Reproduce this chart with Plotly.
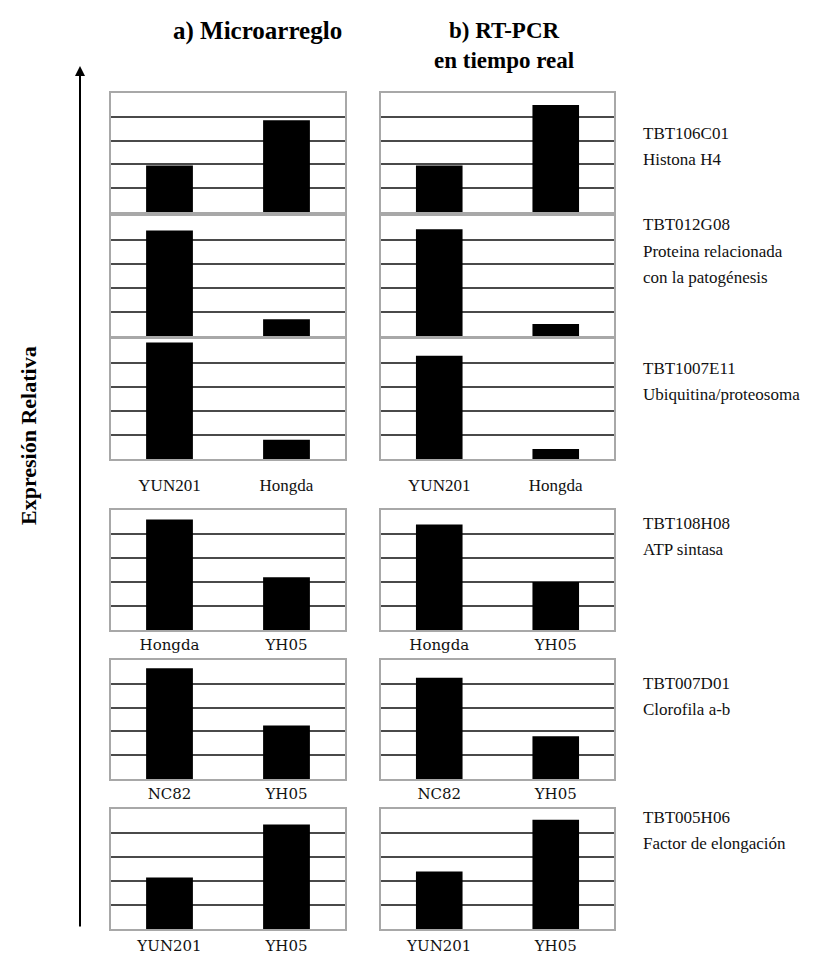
import plotly.graph_objects as go

W, H = 828, 953
OFF = 8  # page body margin offset

# ---- data ----
genes = ["TBT106C01", "TBT012G08", "TBT1007E11", "TBT108H08", "TBT007D01", "TBT005H06"]
descriptions = [
    ["Histona H4"],
    ["Proteina relacionada", "con la patogénesis"],
    ["Ubiquitina/proteosoma"],
    ["ATP sintasa"],
    ["Clorofila a-b"],
    ["Factor de elongación"],
]
categories = [
    ["YUN201", "Hongda"],
    ["YUN201", "Hongda"],
    ["YUN201", "Hongda"],
    ["Hongda", "YH05"],
    ["NC82", "YH05"],
    ["YUN201", "YH05"],
]
microarreglo = [
    [1.95, 3.85],
    [4.40, 0.70],
    [4.85, 0.80],
    [4.60, 2.20],
    [4.65, 2.25],
    [2.15, 4.35],
]
rtpcr = [
    [1.95, 4.50],
    [4.45, 0.50],
    [4.30, 0.42],
    [4.40, 2.00],
    [4.25, 1.80],
    [2.40, 4.55],
]
show_labels = [False, False, True, True, True, True]
titles = ["a) Microarreglo", "b) RT-PCR<br>en tiempo real"]
y_label = "Expresión Relativa"

# ---- layout geometry (pixels in the screenshot) ----
col_x = [(111, 345), (381, 614)]
row_y = [(93, 212), (216, 336), (339, 459), (510, 630), (660, 779), (809, 929)]
label_top_y = [133, 225, 368, 523, 683, 817]
label_standoff = [0, 0, 10, 0, 0, 2]


def px(x):
    return (x - OFF) / W


def py(y):
    return 1 - (y - OFF) / H


fig = go.Figure()
layout = {}
idx = 0
for r in range(6):
    for c, series in enumerate([microarreglo, rtpcr]):
        idx += 1
        xa = "x" if idx == 1 else f"x{idx}"
        ya = "y" if idx == 1 else f"y{idx}"
        fig.add_trace(go.Bar(
            x=categories[r], y=series[r], width=0.4,
            marker=dict(color="black", line=dict(width=0)),
            xaxis=xa, yaxis=ya, showlegend=False,
        ))
        if r < 3:
            tfont = dict(family="Liberation Serif", size=17, color="#111")
        else:
            tfont = dict(family="DejaVu Serif", size=15, color="#111")
        layout["xaxis" if idx == 1 else f"xaxis{idx}"] = dict(
            domain=[px(col_x[c][0]), px(col_x[c][1])],
            anchor=ya, type="category", range=[-0.5, 1.5],
            showline=True, mirror=True, linecolor="#a8a8a8", linewidth=1.5,
            showgrid=False, zeroline=False, ticks="",
            showticklabels=show_labels[r], tickfont=tfont,
            ticklabelstandoff=label_standoff[r], fixedrange=True,
        )
        layout["yaxis" if idx == 1 else f"yaxis{idx}"] = dict(
            domain=[py(row_y[r][1]), py(row_y[r][0])],
            anchor=xa, range=[0, 5], tickvals=[1, 2, 3, 4],
            showgrid=True, gridcolor="#4a4a4a", gridwidth=1.5,
            showline=True, mirror=True, linecolor="#a8a8a8", linewidth=1.5,
            zeroline=False, showticklabels=False, ticks="", fixedrange=True,
        )

annotations = []
# column titles
annotations.append(dict(x=px(257), y=py(31), xref="paper", yref="paper",
                        text="<b>" + titles[0] + "</b>", showarrow=False,
                        font=dict(family="Liberation Serif", size=25, color="black"),
                        xanchor="center", yanchor="middle"))
annotations.append(dict(x=px(504), y=py(45), xref="paper", yref="paper",
                        text="<b>" + titles[1] + "</b>", showarrow=False,
                        font=dict(family="Liberation Serif", size=23, color="black"),
                        xanchor="center", yanchor="middle"))
# gene labels
for r in range(6):
    lines = [genes[r]] + descriptions[r]
    for i, t in enumerate(lines):
        annotations.append(dict(x=px(641), y=py(label_top_y[r] + i * 26),
                                xref="paper", yref="paper", text=t, showarrow=False,
                                font=dict(family="Liberation Serif", size=17, color="#111"),
                                xanchor="left", yanchor="middle"))
# y label
annotations.append(dict(x=px(28), y=py(436), xref="paper", yref="paper",
                        text="<b>" + y_label + "</b>", showarrow=False, textangle=-90,
                        font=dict(family="Liberation Serif", size=22, color="black"),
                        xanchor="center", yanchor="middle"))
# vertical arrow
annotations.append(dict(x=px(80), y=py(66), xref="paper", yref="paper",
                        ax=0, ay=862, axref="pixel", ayref="pixel",
                        text="", showarrow=True, arrowhead=2, arrowsize=1,
                        arrowwidth=2, arrowcolor="black"))

fig.update_layout(
    width=W, height=H, margin=dict(l=0, r=0, t=0, b=0),
    paper_bgcolor="white", plot_bgcolor="white",
    annotations=annotations, bargap=0.6, **layout,
)

fig.write_html("out.html")
